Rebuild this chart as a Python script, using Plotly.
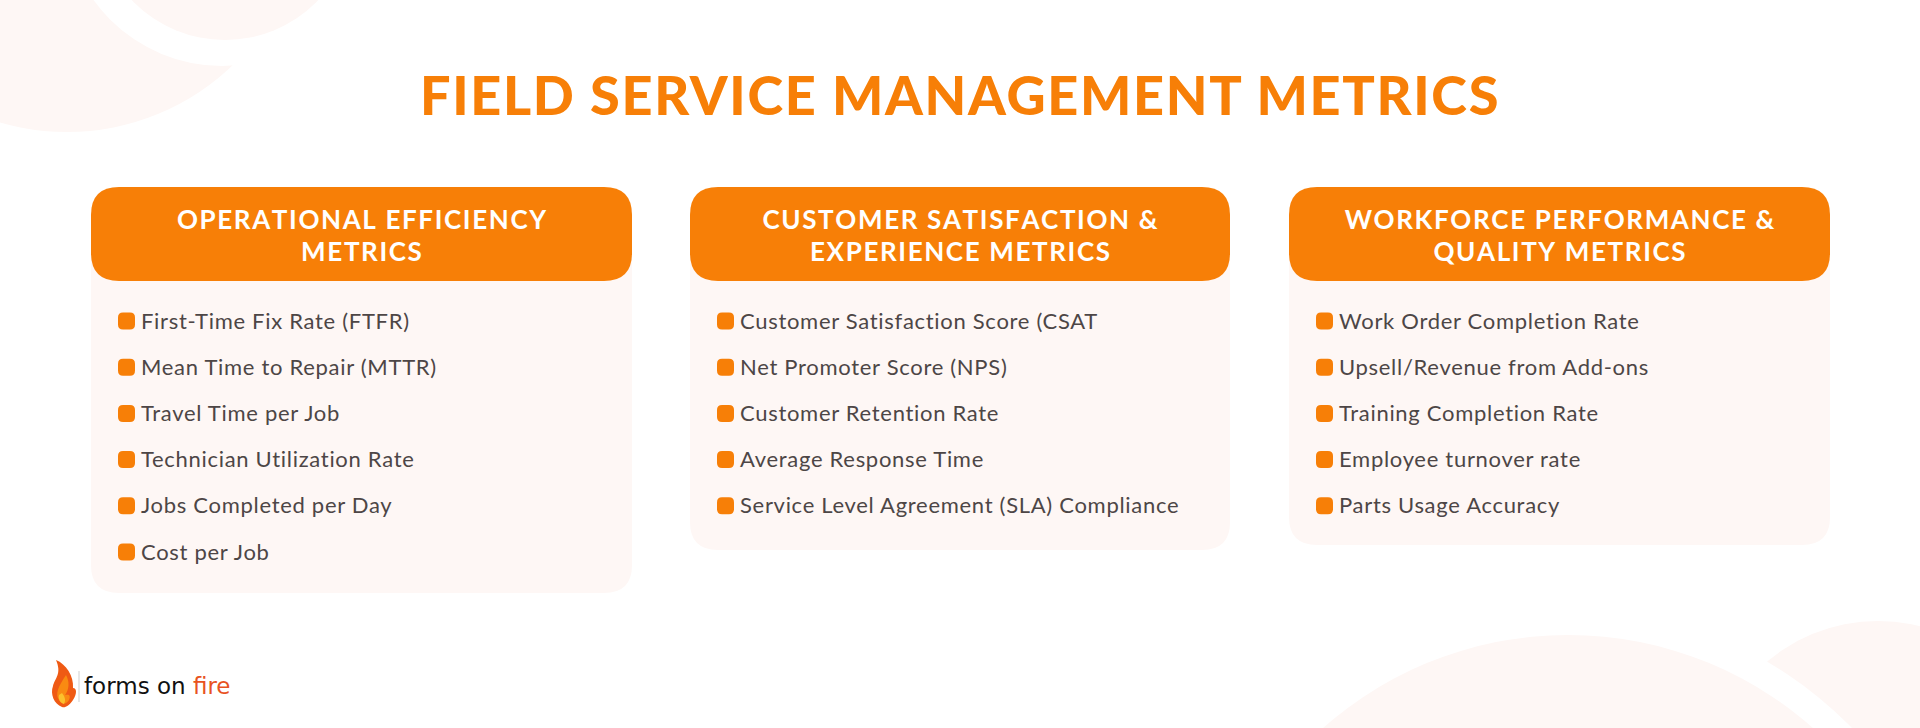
import plotly.graph_objects as go

# Page text
title = "FIELD SERVICE MANAGEMENT METRICS"
headers = [
    ["OPERATIONAL EFFICIENCY", "METRICS"],
    ["CUSTOMER SATISFACTION &", "EXPERIENCE METRICS"],
    ["WORKFORCE PERFORMANCE &", "QUALITY METRICS"],
]
operational = [
    "First-Time Fix Rate (FTFR)",
    "Mean Time to Repair (MTTR)",
    "Travel Time per Job",
    "Technician Utilization Rate",
    "Jobs Completed per Day",
    "Cost per Job",
]
customer = [
    "Customer Satisfaction Score (CSAT",
    "Net Promoter Score (NPS)",
    "Customer Retention Rate",
    "Average Response Time",
    "Service Level Agreement (SLA) Compliance",
]
workforce = [
    "Work Order Completion Rate",
    "Upsell/Revenue from Add-ons",
    "Training Completion Rate",
    "Employee turnover rate",
    "Parts Usage Accuracy",
]
columns = [operational, customer, workforce]

W, H = 1920, 728
ORANGE = "#F77F07"
PALE = "#FEF7F5"
BODY = "#4D4646"
HEAD_FONT = "Lato"

panel_left = [91, 690, 1289]
panel_right = [632, 1230, 1830]
panel_bottom = [593, 550, 545]
header_top, header_bottom = 187, 281
row_first, row_step = 321, 46.2


def rounded(x0, y0, x1, y1, r):
    return (f"M{x0 + r},{y0} L{x1 - r},{y0} Q{x1},{y0} {x1},{y0 + r} "
            f"L{x1},{y1 - r} Q{x1},{y1} {x1 - r},{y1} "
            f"L{x0 + r},{y1} Q{x0},{y1} {x0},{y1 - r} "
            f"L{x0},{y0 + r} Q{x0},{y0} {x0 + r},{y0} Z")


def spaced(text, gap="\u200a"):
    return gap.join(text)


def circle(cx, cy, r, color):
    return dict(type="circle", x0=cx - r, x1=cx + r, y0=cy - r, y1=cy + r,
                fillcolor=color, line_width=0, layer="below")


def blob(path, color):
    return dict(type="path", path=path, fillcolor=color, line_width=0, layer="below")


shapes = [
    # background arcs, top left
    circle(67, -107, 239, PALE),
    circle(222, -92, 158, "white"),
    circle(225, -89, 129, PALE),
    # background arcs, bottom right
    circle(1878, 793, 172, PALE),
    circle(1568, 1004, 396, "white"),
    circle(1568, 1004, 369, PALE),
]

for left, right, bottom in zip(panel_left, panel_right, panel_bottom):
    shapes.append(blob(rounded(left, header_top + 40, right, bottom, 28), PALE))
    shapes.append(blob(rounded(left, header_top, right, header_bottom, 28), ORANGE))

for left, items in zip(panel_left, columns):
    for i in range(len(items)):
        y = row_first + i * row_step
        shapes.append(blob(rounded(left + 27, y - 8.5, left + 44, y + 8.5, 5), ORANGE))

# logo flame
shapes += [
    blob("M56,660 C66,664 74,676 73,688 C77,688 77,694 73,700 C69,706 65,708 62,707 "
         "C54,704 50,694 53,686 C55,678 62,674 56,660 Z", "#EF5A14"),
    blob("M66,675 C70,682 69,690 65,695 C69,694 71,695 69,700 C66,705 62,704 59,700 "
         "C55,694 58,687 66,675 Z", "#F98A12"),
    blob("M62,693 C65,697 66,700 64,704 C60,703 58,699 59,695 Z", "#FBC02D"),
    dict(type="line", x0=79, x1=79, y0=671, y1=702,
         line=dict(color="#CFCFCF", width=1), layer="below"),
]

fig = go.Figure()

# title
fig.add_trace(go.Scatter(
    x=[W / 2], y=[101], mode="text", text=[title],
    textposition="middle center",
    textfont=dict(family=HEAD_FONT, size=54, color=ORANGE, weight=900),
))

# headers
for left, right, lines in zip(panel_left, panel_right, headers):
    for j, line in enumerate(lines):
        fig.add_trace(go.Scatter(
            x=[(left + right) / 2], y=[222 + j * 32], mode="text",
            text=[spaced(line)], textposition="middle center",
            textfont=dict(family=HEAD_FONT, size=26, color="white", weight=700),
        ))

# metric lists
for left, items in zip(panel_left, columns):
    fig.add_trace(go.Scatter(
        x=[left + 50] * len(items),
        y=[row_first + 2 + i * row_step for i in range(len(items))],
        mode="text", text=items,
        textposition="middle right",
        textfont=dict(family="Lato", size=22, color=BODY),
    ))

# logo wordmark
fig.add_trace(go.Scatter(
    x=[84], y=[688], mode="text",
    text=['forms on <span style="color:#E8531F">fire</span>'],
    textposition="middle right",
    textfont=dict(family="DejaVu Sans", size=23, color="#111111"),
))

fig.update_layout(
    width=W, height=H, margin=dict(l=0, r=0, t=0, b=0),
    showlegend=False, paper_bgcolor="white", plot_bgcolor="white",
    shapes=shapes,
    xaxis=dict(range=[0, W], visible=False, fixedrange=True),
    yaxis=dict(range=[H, 0], visible=False, fixedrange=True),
)

# body margin would push the figure off by 8px; plotly has no letter spacing option
post = """
document.body.style.margin = '0';
var traces = document.querySelectorAll('.scatterlayer .trace');
traces.forEach(function (t, i) {
    var gap = i === 0 ? '1.7px' : (i >= 7 && i <= 9 ? '0.7px' : null);
    if (gap) t.querySelectorAll('text').forEach(function (e) { e.style.letterSpacing = gap; });
});
"""
fig.write_html("out.html", post_script=post, config=dict(displayModeBar=False))
